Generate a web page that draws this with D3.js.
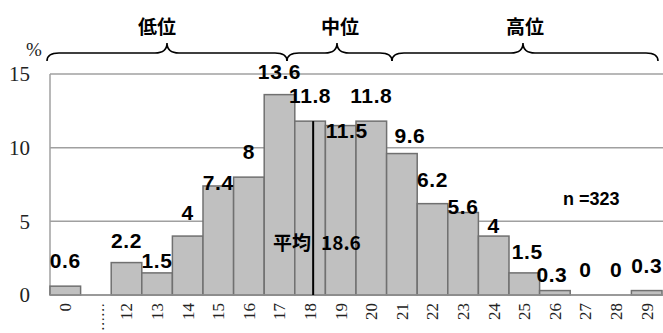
<!DOCTYPE html>
<html><head><meta charset="utf-8">
<script src="https://cdn.jsdelivr.net/npm/d3@7"></script>
<style>html,body{margin:0;padding:0;background:#fff;}svg{display:block;}</style>
</head><body>
<svg id="c" width="663" height="333"></svg>
<script>
const categories = ["0","……","12","13","14","15","16","17","18","19","20","21","22","23","24","25","26","27","28","29"];
const values = [0.6,null,2.2,1.5,4,7.4,8,13.6,11.8,11.5,11.8,9.6,6.2,5.6,4,1.5,0.3,0,0,0.3];
const yTicks = [0,5,10,15];
const groups = ["低位","中位","高位"];
const meanValue = 18.6;
const meanCategory = "18";
const sampleSize = 323;
// label layout nudges (px): lift of label baseline above bar top, and horizontal shift
const labelLift = [18,null,15,5,16,-4,18,16,18,-12,18,11,17,-2,3,14,9,18,18,18];
const labelShift = [0,null,0,0,0,0,0,0,0,6,0,8,0,0,0,3,-3,0,0,0];

const svg = d3.select("#c");
const x = d3.scaleBand().domain(categories).range([50,662]).padding(0);
const y = d3.scaleLinear().domain([0,15]).range([295,74]);
const bw = x.bandwidth();
const grid = "#a0a0a0";

// gridlines
svg.append("g").selectAll("line").data(yTicks).join("line")
  .attr("x1",50).attr("x2",663).attr("y1",d=>y(d)).attr("y2",d=>y(d))
  .attr("stroke",grid).attr("stroke-width",1.5);
svg.append("line").attr("x1",50).attr("x2",50).attr("y1",y(15)).attr("y2",y(0))
  .attr("stroke",grid).attr("stroke-width",1.5);

// y axis labels
const yAxis = d3.axisLeft(y).tickValues(yTicks).tickSize(0).tickPadding(20);
const ya = svg.append("g").attr("transform","translate(50,0)").call(yAxis);
ya.select(".domain").remove();
ya.selectAll("text").attr("font-family","'Liberation Serif','DejaVu Serif',serif")
  .attr("font-size",21).attr("fill","#222");
svg.append("text").attr("x",34).attr("y",56).attr("text-anchor","middle")
  .attr("font-family","'Liberation Serif',serif").attr("font-size",19).attr("fill","#222").text("%");

// bars
const data = categories.map((c,i)=>({c,v:values[i],lift:labelLift[i],shift:labelShift[i]})).filter(d=>d.v!==null);
svg.append("g").selectAll("rect").data(data).join("rect")
  .attr("x",d=>x(d.c)).attr("width",bw)
  .attr("y",d=>y(d.v)).attr("height",d=>y(0)-y(d.v))
  .attr("fill","#c0c0c0").attr("stroke","#707070").attr("stroke-width",1.5);

// baseline
svg.append("line").attr("x1",50).attr("x2",663).attr("y1",y(0)).attr("y2",y(0))
  .attr("stroke","#909090").attr("stroke-width",1.5);

// mean line
const mx = x(meanCategory) + (meanValue - +meanCategory)*bw;
const meanBar = values[categories.indexOf(meanCategory)];
svg.append("line").attr("x1",mx).attr("x2",mx).attr("y1",y(meanBar)).attr("y2",y(0))
  .attr("stroke","#000").attr("stroke-width",2);
const meanLabel = svg.append("text").attr("y",250)
  .attr("font-family","'Noto Sans CJK JP',sans-serif").attr("font-size",19).attr("font-weight","bold")
  .attr("fill","#000");
meanLabel.append("tspan").attr("x",273).text("平均");
meanLabel.append("tspan").attr("x",321).text(meanValue);

// value labels
svg.append("g").selectAll("text").data(data).join("text")
  .attr("x",d=>x(d.c)+bw/2+d.shift).attr("y",d=>y(d.v)-d.lift)
  .attr("text-anchor","middle")
  .attr("font-family","'Liberation Sans',Arial,sans-serif").attr("font-weight","bold")
  .attr("font-size",21).attr("letter-spacing","0.6px").attr("fill","#000")
  .text(d=>d.v);

// x tick labels
svg.append("g").selectAll("text").data(categories).join("text")
  .attr("transform",d=>`translate(${x(d)+bw/2},303) rotate(-90)`)
  .attr("text-anchor","end").attr("dy",d=>d==="……"?"0.85em":"0.35em")
  .attr("font-family",d=>d==="……"?"'Noto Sans CJK JP',sans-serif":"'Liberation Serif',serif")
  .attr("font-size",d=>d==="……"?14:17).attr("fill","#222")
  .text(d=>d);

// n label
svg.append("text").attr("x",563).attr("y",205)
  .attr("font-family","'Liberation Sans',Arial,sans-serif").attr("font-weight","bold")
  .attr("font-size",18).attr("fill","#000").text("n =" + sampleSize);

// braces
const braces = [
  {x1:47, xm:167, x2:287, lx:157},
  {x1:287, xm:337, x2:392, lx:340},
  {x1:392, xm:523, x2:658, lx:525}
];
function bracePath(b){
  const yh=53, ye=61, yt=43, r=12;
  return `M${b.x1},${ye} Q${b.x1},${yh} ${b.x1+r},${yh} L${b.xm-r},${yh} Q${b.xm},${yh} ${b.xm},${yt} Q${b.xm},${yh} ${b.xm+r},${yh} L${b.x2-r},${yh} Q${b.x2},${yh} ${b.x2},${ye}`;
}
svg.append("g").selectAll("path").data(braces).join("path")
  .attr("d",bracePath).attr("fill","none").attr("stroke","#000").attr("stroke-width",1.6);
svg.append("g").selectAll("text").data(groups).join("text")
  .attr("x",(d,i)=>braces[i].lx).attr("y",25)
  .attr("dominant-baseline","central").attr("text-anchor","middle")
  .attr("font-family","'Noto Sans CJK JP',sans-serif").attr("font-weight","bold")
  .attr("font-size",19).attr("fill","#000").text(d=>d);
</script>
</body></html>
